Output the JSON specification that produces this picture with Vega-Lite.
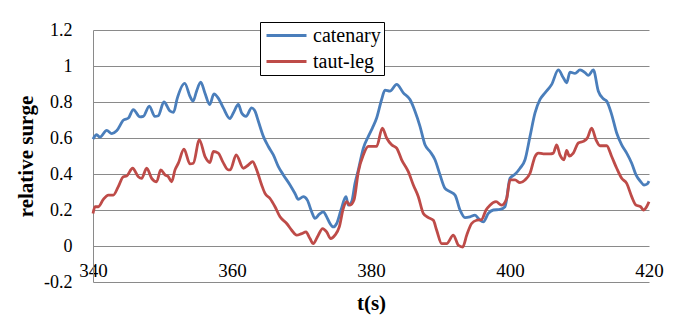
{
  "$schema": "https://vega.github.io/schema/vega-lite/v6.json",
  "autosize": {"type": "none"},
  "padding": {"left": 93, "top": 30, "right": 34, "bottom": 33},
  "width": 556,
  "height": 252,
  "background": "white",
  "config": {
    "view": {"stroke": null},
    "font": "Liberation Serif"
  },
  "data": {"values": [
    {"s":"catenary","t":340.0,"v":0.594},{"s":"catenary","t":340.53,"v":0.618},{"s":"catenary","t":341.0,"v":0.605},{"s":"catenary","t":341.97,"v":0.642},{"s":"catenary","t":342.7,"v":0.624},{"s":"catenary","t":343.4,"v":0.64},{"s":"catenary","t":344.4,"v":0.7},{"s":"catenary","t":345.1,"v":0.711},{"s":"catenary","t":345.8,"v":0.758},{"s":"catenary","t":346.76,"v":0.717},{"s":"catenary","t":347.24,"v":0.72},{"s":"catenary","t":348.1,"v":0.777},{"s":"catenary","t":348.9,"v":0.72},{"s":"catenary","t":349.4,"v":0.724},{"s":"catenary","t":350.2,"v":0.8},{"s":"catenary","t":351.1,"v":0.749},{"s":"catenary","t":351.6,"v":0.743},{"s":"catenary","t":352.1,"v":0.817},{"s":"catenary","t":353.2,"v":0.903},{"s":"catenary","t":353.95,"v":0.832},{"s":"catenary","t":354.4,"v":0.805},{"s":"catenary","t":354.9,"v":0.86},{"s":"catenary","t":355.5,"v":0.91},{"s":"catenary","t":356.1,"v":0.85},{"s":"catenary","t":356.8,"v":0.786},{"s":"catenary","t":357.4,"v":0.845},{"s":"catenary","t":358.0,"v":0.823},{"s":"catenary","t":358.75,"v":0.767},{"s":"catenary","t":359.7,"v":0.708},{"s":"catenary","t":360.19,"v":0.739},{"s":"catenary","t":360.91,"v":0.786},{"s":"catenary","t":361.39,"v":0.739},{"s":"catenary","t":362.01,"v":0.72},{"s":"catenary","t":362.83,"v":0.767},{"s":"catenary","t":363.31,"v":0.749},{"s":"catenary","t":363.79,"v":0.693},{"s":"catenary","t":364.51,"v":0.609},{"s":"catenary","t":365.23,"v":0.553},{"s":"catenary","t":365.95,"v":0.506},{"s":"catenary","t":366.67,"v":0.441},{"s":"catenary","t":367.39,"v":0.395},{"s":"catenary","t":368.35,"v":0.339},{"s":"catenary","t":369.06,"v":0.292},{"s":"catenary","t":369.54,"v":0.259},{"s":"catenary","t":370.26,"v":0.274},{"s":"catenary","t":370.84,"v":0.255},{"s":"catenary","t":371.46,"v":0.19},{"s":"catenary","t":371.94,"v":0.153},{"s":"catenary","t":372.57,"v":0.177},{"s":"catenary","t":373.14,"v":0.19},{"s":"catenary","t":373.62,"v":0.162},{"s":"catenary","t":374.1,"v":0.125},{"s":"catenary","t":374.58,"v":0.106},{"s":"catenary","t":375.06,"v":0.125},{"s":"catenary","t":375.68,"v":0.2},{"s":"catenary","t":376.4,"v":0.274},{"s":"catenary","t":376.74,"v":0.227},{"s":"catenary","t":377.22,"v":0.246},{"s":"catenary","t":377.7,"v":0.348},{"s":"catenary","t":378.18,"v":0.423},{"s":"catenary","t":378.9,"v":0.544},{"s":"catenary","t":379.62,"v":0.609},{"s":"catenary","t":380.2,"v":0.655},{"s":"catenary","t":380.81,"v":0.711},{"s":"catenary","t":381.53,"v":0.814},{"s":"catenary","t":382.01,"v":0.866},{"s":"catenary","t":382.73,"v":0.86},{"s":"catenary","t":383.69,"v":0.898},{"s":"catenary","t":384.65,"v":0.851},{"s":"catenary","t":385.61,"v":0.814},{"s":"catenary","t":386.33,"v":0.749},{"s":"catenary","t":387.05,"v":0.665},{"s":"catenary","t":387.77,"v":0.562},{"s":"catenary","t":388.49,"v":0.525},{"s":"catenary","t":389.21,"v":0.479},{"s":"catenary","t":389.93,"v":0.395},{"s":"catenary","t":390.65,"v":0.32},{"s":"catenary","t":391.37,"v":0.302},{"s":"catenary","t":392.09,"v":0.283},{"s":"catenary","t":392.81,"v":0.2},{"s":"catenary","t":393.52,"v":0.158},{"s":"catenary","t":394.24,"v":0.162},{"s":"catenary","t":394.96,"v":0.171},{"s":"catenary","t":395.59,"v":0.147},{"s":"catenary","t":396.16,"v":0.134},{"s":"catenary","t":396.88,"v":0.181},{"s":"catenary","t":397.6,"v":0.2},{"s":"catenary","t":398.56,"v":0.203},{"s":"catenary","t":399.28,"v":0.218},{"s":"catenary","t":400.0,"v":0.376},{"s":"catenary","t":400.72,"v":0.398},{"s":"catenary","t":401.44,"v":0.432},{"s":"catenary","t":402.16,"v":0.479},{"s":"catenary","t":402.88,"v":0.609},{"s":"catenary","t":403.6,"v":0.739},{"s":"catenary","t":404.32,"v":0.814},{"s":"catenary","t":405.04,"v":0.851},{"s":"catenary","t":406.0,"v":0.898},{"s":"catenary","t":406.95,"v":0.978},{"s":"catenary","t":407.67,"v":0.935},{"s":"catenary","t":408.15,"v":0.907},{"s":"catenary","t":408.63,"v":0.966},{"s":"catenary","t":409.35,"v":0.959},{"s":"catenary","t":410.07,"v":0.978},{"s":"catenary","t":410.79,"v":0.963},{"s":"catenary","t":411.27,"v":0.948},{"s":"catenary","t":411.99,"v":0.978},{"s":"catenary","t":412.71,"v":0.86},{"s":"catenary","t":413.43,"v":0.818},{"s":"catenary","t":413.91,"v":0.805},{"s":"catenary","t":414.63,"v":0.73},{"s":"catenary","t":415.35,"v":0.628},{"s":"catenary","t":416.07,"v":0.562},{"s":"catenary","t":416.79,"v":0.516},{"s":"catenary","t":417.51,"v":0.46},{"s":"catenary","t":418.13,"v":0.395},{"s":"catenary","t":418.8,"v":0.358},{"s":"catenary","t":419.28,"v":0.339},{"s":"catenary","t":419.76,"v":0.345},{"s":"catenary","t":420.0,"v":0.36},
    {"s":"taut-leg","t":340.0,"v":0.18},{"s":"taut-leg","t":340.29,"v":0.218},{"s":"taut-leg","t":340.77,"v":0.218},{"s":"taut-leg","t":341.49,"v":0.259},{"s":"taut-leg","t":342.2,"v":0.283},{"s":"taut-leg","t":342.92,"v":0.283},{"s":"taut-leg","t":343.64,"v":0.33},{"s":"taut-leg","t":344.36,"v":0.385},{"s":"taut-leg","t":344.84,"v":0.389},{"s":"taut-leg","t":345.7,"v":0.432},{"s":"taut-leg","t":346.52,"v":0.385},{"s":"taut-leg","t":347.0,"v":0.376},{"s":"taut-leg","t":347.72,"v":0.432},{"s":"taut-leg","t":348.44,"v":0.376},{"s":"taut-leg","t":349.16,"v":0.357},{"s":"taut-leg","t":349.74,"v":0.423},{"s":"taut-leg","t":350.36,"v":0.395},{"s":"taut-leg","t":350.84,"v":0.385},{"s":"taut-leg","t":351.32,"v":0.357},{"s":"taut-leg","t":351.8,"v":0.423},{"s":"taut-leg","t":352.28,"v":0.46},{"s":"taut-leg","t":353.09,"v":0.538},{"s":"taut-leg","t":353.96,"v":0.456},{"s":"taut-leg","t":354.44,"v":0.46},{"s":"taut-leg","t":355.3,"v":0.59},{"s":"taut-leg","t":356.12,"v":0.497},{"s":"taut-leg","t":356.83,"v":0.464},{"s":"taut-leg","t":357.31,"v":0.525},{"s":"taut-leg","t":358.03,"v":0.516},{"s":"taut-leg","t":358.66,"v":0.469},{"s":"taut-leg","t":359.47,"v":0.423},{"s":"taut-leg","t":359.75,"v":0.423},{"s":"taut-leg","t":360.6,"v":0.506},{"s":"taut-leg","t":361.63,"v":0.432},{"s":"taut-leg","t":362.35,"v":0.45},{"s":"taut-leg","t":362.97,"v":0.469},{"s":"taut-leg","t":363.55,"v":0.423},{"s":"taut-leg","t":364.27,"v":0.339},{"s":"taut-leg","t":364.75,"v":0.292},{"s":"taut-leg","t":365.47,"v":0.264},{"s":"taut-leg","t":366.19,"v":0.218},{"s":"taut-leg","t":366.91,"v":0.162},{"s":"taut-leg","t":367.87,"v":0.125},{"s":"taut-leg","t":368.59,"v":0.0875},{"s":"taut-leg","t":369.3,"v":0.06},{"s":"taut-leg","t":370.02,"v":0.069},{"s":"taut-leg","t":370.65,"v":0.078},{"s":"taut-leg","t":371.22,"v":0.041},{"s":"taut-leg","t":371.7,"v":0.013},{"s":"taut-leg","t":372.28,"v":0.05},{"s":"taut-leg","t":373.05,"v":0.097},{"s":"taut-leg","t":373.62,"v":0.078},{"s":"taut-leg","t":374.2,"v":0.041},{"s":"taut-leg","t":374.82,"v":0.06},{"s":"taut-leg","t":375.44,"v":0.106},{"s":"taut-leg","t":376.02,"v":0.209},{"s":"taut-leg","t":376.5,"v":0.246},{"s":"taut-leg","t":376.98,"v":0.227},{"s":"taut-leg","t":377.55,"v":0.255},{"s":"taut-leg","t":378.18,"v":0.413},{"s":"taut-leg","t":378.9,"v":0.506},{"s":"taut-leg","t":379.62,"v":0.553},{"s":"taut-leg","t":380.81,"v":0.553},{"s":"taut-leg","t":381.63,"v":0.655},{"s":"taut-leg","t":382.25,"v":0.6},{"s":"taut-leg","t":382.97,"v":0.562},{"s":"taut-leg","t":383.69,"v":0.544},{"s":"taut-leg","t":384.41,"v":0.479},{"s":"taut-leg","t":385.37,"v":0.413},{"s":"taut-leg","t":386.09,"v":0.339},{"s":"taut-leg","t":386.81,"v":0.274},{"s":"taut-leg","t":387.53,"v":0.181},{"s":"taut-leg","t":388.25,"v":0.158},{"s":"taut-leg","t":388.97,"v":0.143},{"s":"taut-leg","t":389.45,"v":0.0875},{"s":"taut-leg","t":390.17,"v":0.013},{"s":"taut-leg","t":390.89,"v":0.013},{"s":"taut-leg","t":391.85,"v":0.06},{"s":"taut-leg","t":392.57,"v":0.004},{"s":"taut-leg","t":393.19,"v":-0.006},{"s":"taut-leg","t":393.77,"v":0.06},{"s":"taut-leg","t":394.48,"v":0.125},{"s":"taut-leg","t":395.2,"v":0.143},{"s":"taut-leg","t":395.92,"v":0.147},{"s":"taut-leg","t":396.55,"v":0.2},{"s":"taut-leg","t":397.12,"v":0.227},{"s":"taut-leg","t":397.99,"v":0.246},{"s":"taut-leg","t":398.8,"v":0.227},{"s":"taut-leg","t":399.52,"v":0.264},{"s":"taut-leg","t":400.0,"v":0.367},{"s":"taut-leg","t":400.72,"v":0.367},{"s":"taut-leg","t":401.44,"v":0.352},{"s":"taut-leg","t":402.16,"v":0.367},{"s":"taut-leg","t":402.88,"v":0.404},{"s":"taut-leg","t":403.6,"v":0.497},{"s":"taut-leg","t":404.08,"v":0.516},{"s":"taut-leg","t":404.8,"v":0.512},{"s":"taut-leg","t":405.76,"v":0.512},{"s":"taut-leg","t":406.24,"v":0.516},{"s":"taut-leg","t":406.71,"v":0.562},{"s":"taut-leg","t":407.19,"v":0.506},{"s":"taut-leg","t":407.77,"v":0.479},{"s":"taut-leg","t":408.15,"v":0.531},{"s":"taut-leg","t":408.54,"v":0.5},{"s":"taut-leg","t":409.11,"v":0.516},{"s":"taut-leg","t":409.83,"v":0.572},{"s":"taut-leg","t":410.55,"v":0.581},{"s":"taut-leg","t":411.13,"v":0.6},{"s":"taut-leg","t":411.75,"v":0.655},{"s":"taut-leg","t":412.37,"v":0.59},{"s":"taut-leg","t":412.95,"v":0.557},{"s":"taut-leg","t":413.91,"v":0.557},{"s":"taut-leg","t":414.63,"v":0.497},{"s":"taut-leg","t":415.35,"v":0.432},{"s":"taut-leg","t":416.07,"v":0.376},{"s":"taut-leg","t":416.79,"v":0.348},{"s":"taut-leg","t":417.51,"v":0.274},{"s":"taut-leg","t":418.13,"v":0.227},{"s":"taut-leg","t":418.8,"v":0.218},{"s":"taut-leg","t":419.18,"v":0.2},{"s":"taut-leg","t":419.66,"v":0.218},{"s":"taut-leg","t":420.0,"v":0.246}
  ]},
  "mark": {"type": "line", "strokeWidth": 2.8, "interpolate": "monotone"},
  "encoding": {
    "x": {
      "field": "t", "type": "quantitative",
      "scale": {"domain": [340, 420], "nice": false, "zero": false},
      "axis": {
        "values": [340, 360, 380, 400, 420],
        "grid": false, "domain": false, "ticks": false, "tickSize": 0,
        "labelFont": "Liberation Serif", "labelFontSize": 19, "labelColor": "black",
        "labelBaseline": "alphabetic", "labelPadding": -6, "labelFlush": false,
        "title": "t(s)", "titleFont": "Liberation Serif", "titleFontSize": 21, "titleFontWeight": "bold",
        "titleColor": "black", "titleBaseline": "alphabetic", "titleY": 27
      }
    },
    "y": {
      "field": "v", "type": "quantitative",
      "scale": {"domain": [-0.2, 1.2], "nice": false, "zero": false},
      "axis": {
        "values": [-0.2, 0, 0.2, 0.4, 0.6, 0.8, 1.0, 1.2],
        "grid": true, "gridColor": "#8a8a8a", "gridWidth": 1, "gridOpacity": 1,
        "domain": true, "domainColor": "#8a8a8a", "domainWidth": 1,
        "ticks": false, "tickSize": 0,
        "labelExpr": "replace(format(datum.value, '.1~f'), '\u2212', '-')",
        "labelFont": "Liberation Serif", "labelFontSize": 18, "labelColor": "black",
        "labelPadding": 21,
        "title": "relative surge", "titleFont": "Liberation Serif", "titleFontSize": 21, "titleFontWeight": "bold",
        "titleColor": "black", "titleBaseline": "alphabetic", "titleAngle": 270, "titleX": -61, "titleY": 126
      }
    },
    "color": {
      "field": "s", "type": "nominal",
      "scale": {"domain": ["catenary", "taut-leg"], "range": ["#4a7ebb", "#be4b48"]},
      "legend": {
        "title": null, "orient": "none", "legendX": 167, "legendY": -8,
        "symbolType": "stroke", "symbolSize": 1600, "symbolStrokeWidth": 3,
        "clipHeight": 21,
        "labelFont": "Liberation Serif", "labelFontSize": 20, "labelColor": "black",
        "labelOffset": 5, "rowPadding": 5, "padding": 3, "symbolOffset": 2,
        "strokeColor": "black", "fillColor": "white"
      }
    }
  }
}
